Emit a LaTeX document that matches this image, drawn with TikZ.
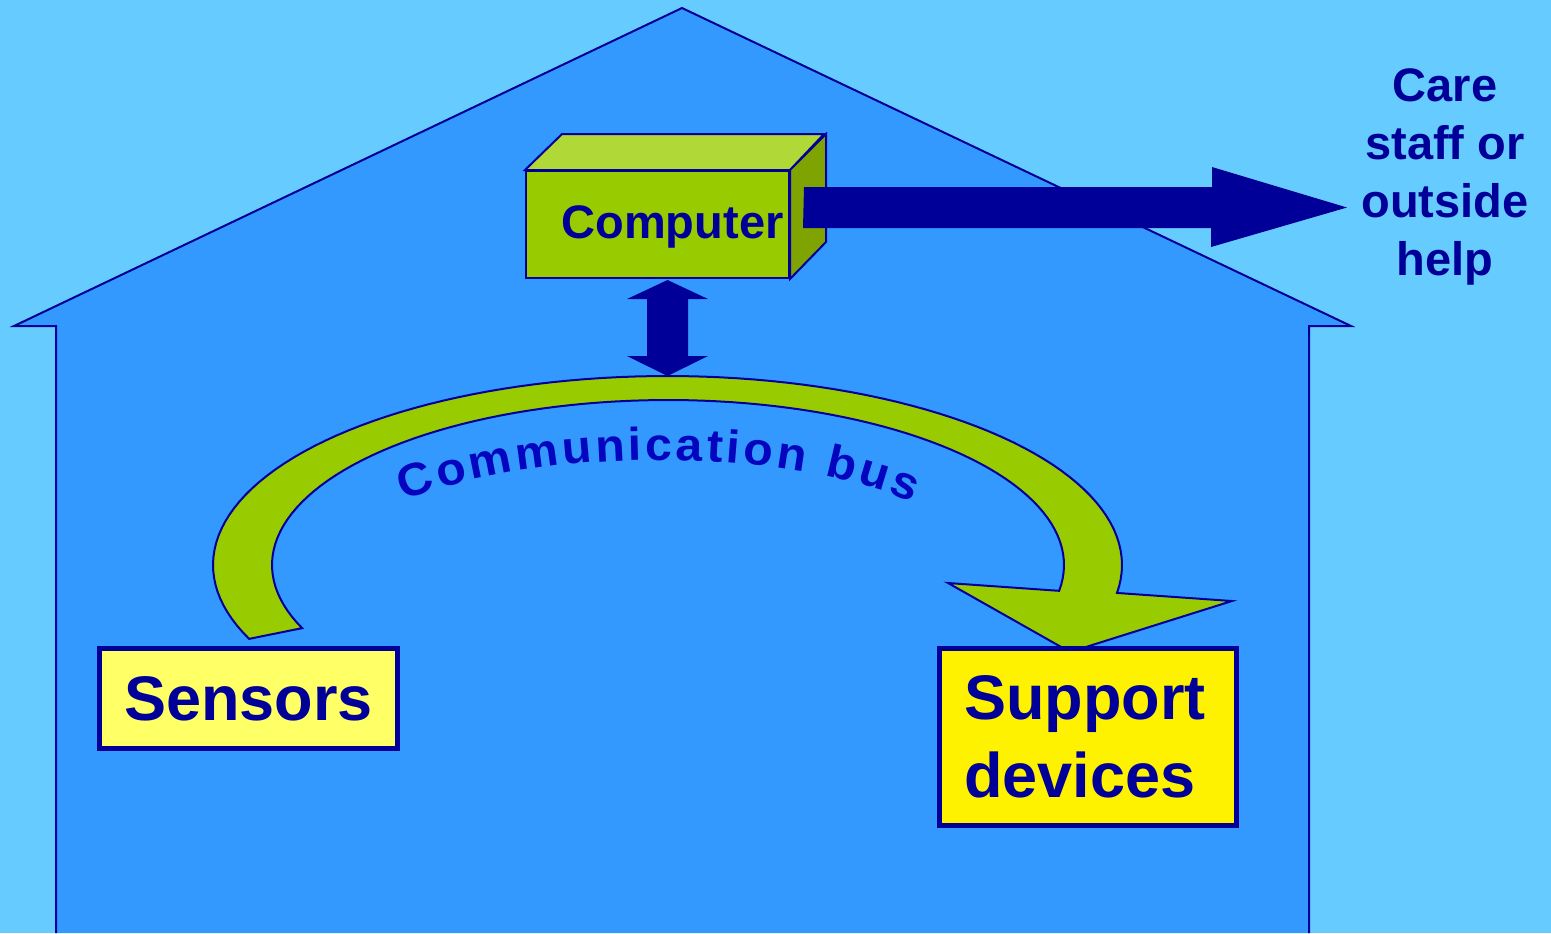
\documentclass[tikz,border=0pt]{standalone}
\usepackage{fontspec}
\setmainfont{Liberation Sans}
\newfontfamily\busfont[FakeStretch=1.05]{Liberation Sans Bold}
\usetikzlibrary{decorations.text}
\definecolor{bg}{HTML}{66CCFF}
\definecolor{house}{HTML}{3399FF}
\definecolor{navy}{HTML}{000099}
\definecolor{lime}{HTML}{99CC00}
\definecolor{limetop}{HTML}{B0D836}
\definecolor{limeside}{HTML}{7FA300}
\definecolor{lightyel}{HTML}{FFFF66}
\definecolor{busblue}{HTML}{0505C0}
\begin{document}
\begin{tikzpicture}[x=0.5pt,y=-0.5pt,
  outline/.style={draw=navy,line width=1pt},
  labelbox/.style={draw=navy,line width=2.5pt,inner sep=0pt,text=navy,
     font=\fontsize{31.5}{39}\selectfont\bfseries},
]
\fill[bg] (0,0) rectangle (1551,933);
\useasboundingbox (0,0) rectangle (1551,933);
% house
\filldraw[fill=house,outline] (56,933) -- (56,326) -- (14,326) -- (682,8) -- (1351,326) -- (1309,326) -- (1309,933);
% communication bus arrow
\filldraw[fill=lime,outline]
  plot[domain=203:-8.5,samples=100] ({667.5+454.5*cos(\x)},{565-189*sin(\x)})
  -- (1232,601) -- (1070,652) -- (948,583)
  -- plot[domain=-9:202.5,samples=100] ({668+396*cos(\x)},{565-165*sin(\x)})
  -- cycle;
\path[decorate,decoration={text along path,text align=fit to path,
   text={|\busfont\fontsize{23}{23}\selectfont\color{busblue}|Communication bus}}]
  (404,501) .. controls (540,446) and (790,446) .. (912,503);
% computer
\node[fill=lime,outline,minimum width=131.5pt,minimum height=53.5pt,inner sep=0pt] (computer) at (657.5,224.5) {};
\filldraw[fill=limetop,outline] (computer.north west) -- ++(37,-36) -- ++(262,0) -- (computer.north east) -- cycle;
\filldraw[fill=limeside,outline] (computer.north east) -- ++(36,-36) -- ++(0,108) -- (computer.south east) -- cycle;
\node[text=navy,font=\fontsize{23.5}{29}\selectfont\bfseries,inner sep=0pt] (complabel) at (672.5,226.5) {Computer};
% care staff
\node[text=navy,font=\fontsize{23.5}{29}\selectfont\bfseries,align=center,inner sep=0pt] (care) at (1445,177) {Care\\staff or\\outside\\help};
% boxes
\node[labelbox,fill=lightyel,minimum width=149pt,minimum height=50pt] (sensors) at (248.5,698.5) {Sensors};
\node[labelbox,fill=yellow,minimum width=148.5pt,minimum height=88.5pt,text width=124pt,align=left] (support) at (1088,737) {Support\\devices};
% arrows
\coordinate (outstart) at ([xshift=7pt,yshift=8.5pt]computer.east);
\coordinate (outend) at (1347,207.5);
\fill[navy] (outstart) ++(0,-20.5) -- ++(408,0) -- ++(0,-20) -- (outend) -- ++(-136,39.5) -- ++(0,-19) -- ++(-408,0) -- cycle;
\coordinate (busstart) at (667.5,280);
\coordinate (bustop) at (667.5,376);
\fill[navy] (busstart) -- ++(40.5,19) -- ++(-20,0) -- ++(0,57) -- ++(20,0) -- (bustop) -- ++(-40.5,-20) -- ++(20,0) -- ++(0,-57) -- ++(-20,0) -- cycle;
\end{tikzpicture}
\end{document}
